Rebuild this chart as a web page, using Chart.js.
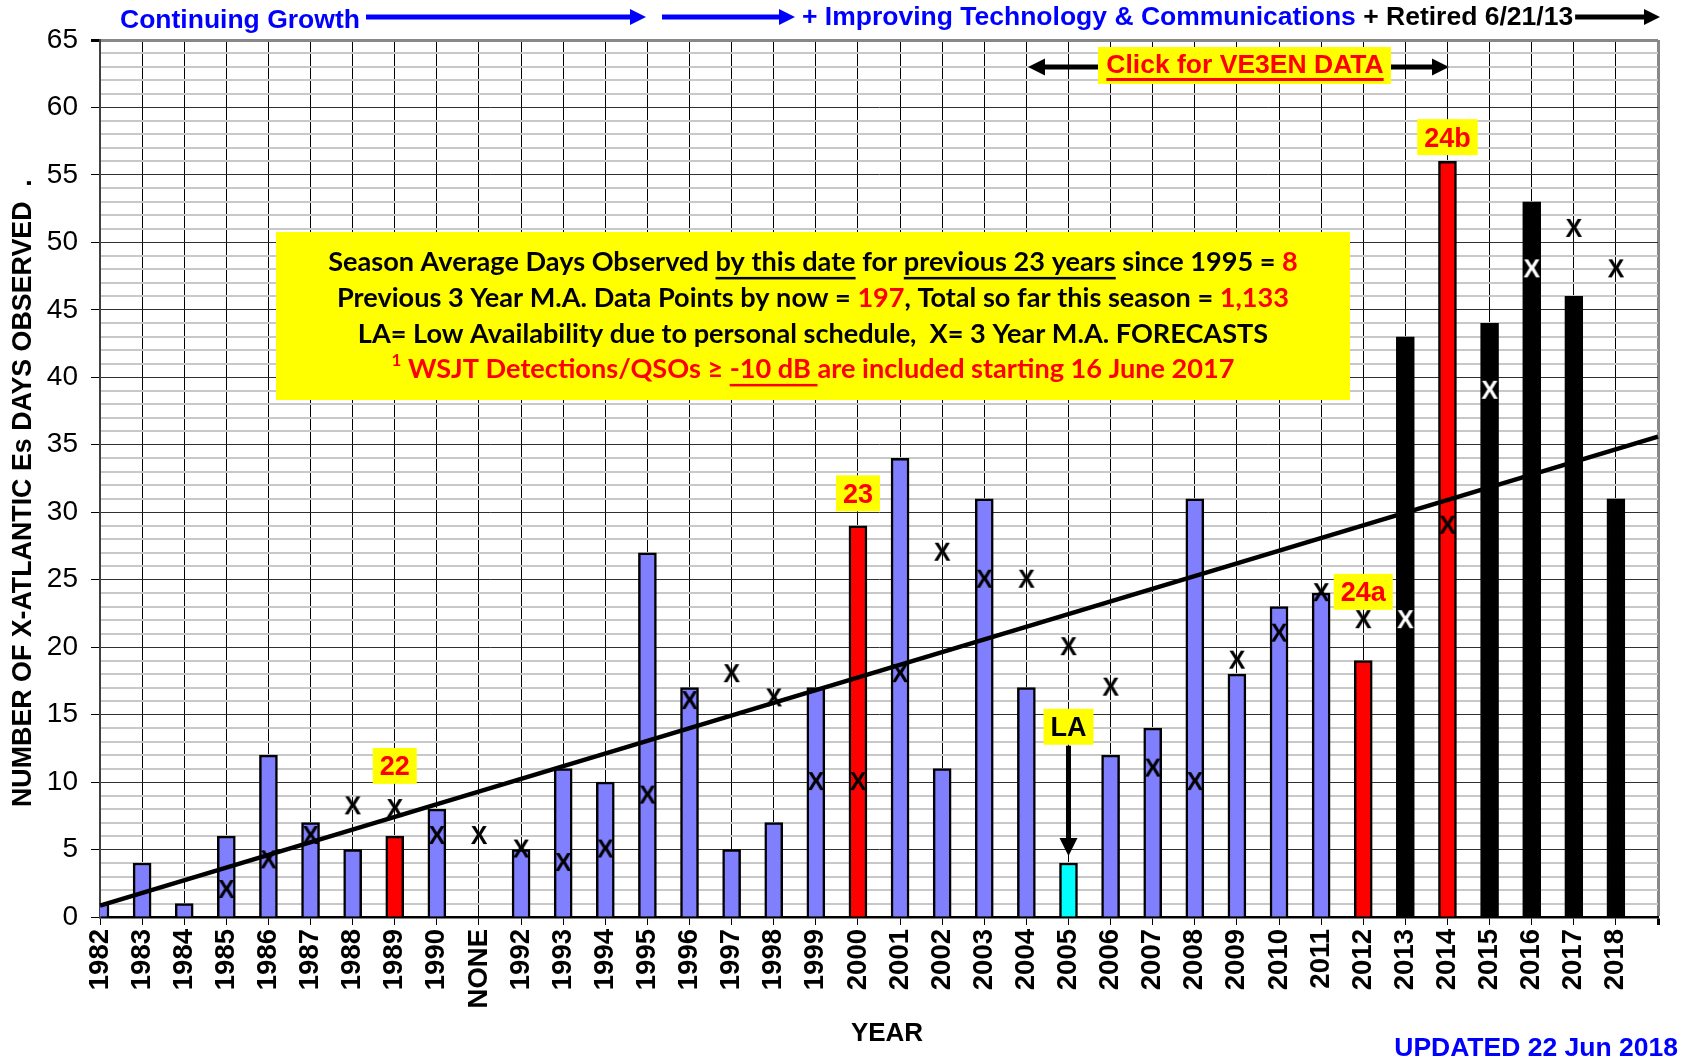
<!DOCTYPE html>
<html><head><meta charset="utf-8">
<script src="https://cdn.jsdelivr.net/npm/chart.js@4"></script>
<style>html,body{margin:0;padding:0;background:#fff}#wrap{width:1688px;height:1062px}</style>
</head><body><div id="wrap"><canvas id="c" width="1688" height="1062"></canvas></div>
<script>
// ---------- DATA ----------
const categories = ['1982','1983','1984','1985','1986','1987','1988','1989','1990','NONE','1992','1993','1994','1995','1996','1997','1998','1999','2000','2001','2002','2003','2004','2005','2006','2007','2008','2009','2010','2011','2012','2013','2014','2015','2016','2017','2018',''];
const observedDays = [1,4,1,6,12,7,5,6,8,null,5,11,10,27,17,5,7,17,29,34,11,31,17,4,12,14,31,18,23,24,19,43,56,44,53,46,31,null];
const forecastMA = [null,null,null,2,4.2,6,8.2,8,6,6,5,4,5,9,16,18,16.2,10,10,18,27,25,25,20,17,11,10,19,21,24,22,22,29,39,48,51,48,null];
const trendStart = 0.85;
const trendEnd = 35.6;
const specialYears = ['1989','2000','2012','2014'];
const lowAvailabilityYears = ['2005'];
const retiredYears = ['2013','2015','2016','2017','2018'];
const noteLabels = ['22','23','24a','24b','LA'];
const noteYears = ['1989','2000','2012','2014','2005'];
const noteLevels = [11.2, 31.4, 24.1, 57.8, 14.1];
const yMin = 0, yMax = 65, yMajorStep = 5;

// ---------- STYLE ----------
const SANS = '"Liberation Sans", Arial, sans-serif';
function barColor(cat){
  if (specialYears.includes(cat)) return '#FF0000';
  if (lowAvailabilityYears.includes(cat)) return '#00FFFF';
  if (retiredYears.includes(cat)) return '#000000';
  return '#8080FF';
}
function makeX(color){
  const c = document.createElement('canvas');
  c.width = 26; c.height = 26;
  const g = c.getContext('2d');
  g.font = 'bold 25px ' + SANS;
  g.fillStyle = color; g.textAlign = 'center'; g.textBaseline = 'middle';
  g.fillText('X', 13, 14);
  return c;
}
const xBlack = makeX('#000'), xWhite = makeX('#fff');

const trendData = categories.map((c,i) => i === 0 ? trendStart : (i === categories.length-1 ? trendEnd : null));

function arrowH(ctx, x1, x2, y, color, thick, headLen, headW){
  const dir = Math.sign(x2 - x1);
  ctx.fillStyle = color;
  const xe = x2 - dir*headLen;
  ctx.fillRect(Math.min(x1, xe), y - thick/2, Math.abs(xe - x1), thick);
  ctx.beginPath(); ctx.moveTo(x2, y); ctx.lineTo(xe, y - headW/2); ctx.lineTo(xe, y + headW/2); ctx.closePath(); ctx.fill();
}

function drawRich(ctx, segs, cx, cy, size, family){
  const f = 'bold ' + size + 'px ' + family;
  const fs = 'bold ' + Math.round(size*0.62) + 'px ' + family;
  const ws = segs.map(s => { ctx.font = s.sup ? fs : f; return ctx.measureText(s.t).width; });
  const total = ws.reduce((a,b)=>a+b,0);
  let x = cx - total/2;
  ctx.textAlign = 'left'; ctx.textBaseline = 'middle';
  segs.forEach((s,i) => {
    ctx.font = s.sup ? fs : f;
    ctx.fillStyle = s.c;
    ctx.fillText(s.t, x, s.sup ? cy - size*0.3 : cy);
    if (s.u) ctx.fillRect(x, cy + size*0.55, ws[i], 2.5);
    x += ws[i];
  });
}

const annot = {
  id: 'annot',
  afterDatasetsDraw(chart){
    const ctx = chart.ctx, xs = chart.scales.x, ys = chart.scales.y;
    ctx.save();
    // note boxes
    noteLabels.forEach((t,i) => {
      const idx = categories.indexOf(noteYears[i]);
      const cx = xs.getPixelForValue(idx), cy = ys.getPixelForValue(noteLevels[i]);
      ctx.font = 'bold 27px ' + SANS;
      const w = ctx.measureText(t).width + 14, h = 36;
      ctx.fillStyle = '#FFFF00';
      ctx.fillRect(cx - w/2, cy - h/2, w, h);
      ctx.fillStyle = t === 'LA' ? '#000' : '#FF0000';
      ctx.textAlign = 'center'; ctx.textBaseline = 'middle';
      ctx.fillText(t, cx, cy + 2);
      if (t === 'LA') {
        const top = cy + h/2 + 1;
        const tip = ys.getPixelForValue(observedDays[idx]) - 7;
        ctx.fillStyle = '#000';
        ctx.fillRect(cx - 2.5, top, 5, tip - 17 - top);
        ctx.beginPath(); ctx.moveTo(cx, tip); ctx.lineTo(cx - 9, tip - 18); ctx.lineTo(cx + 9, tip - 18); ctx.closePath(); ctx.fill();
      }
    });
    // info box
    ctx.fillStyle = '#FFFF00';
    ctx.fillRect(276, 232, 1074, 168);
    const fam = 'Lato, "Open Sans", sans-serif';
    ctx.font = 'bold 100px ' + fam;
    const l1 = 'Season Average Days Observed by this date for previous 23 years since 1995 = 8';
    const size = 100 * 970 / ctx.measureText(l1).width;
    const K = '#000', R = '#FF0000';
    const cx = 813;
    drawRich(ctx, [{t:'Season Average Days Observed ',c:K},{t:'by this date',c:K,u:1},{t:' for ',c:K},{t:'previous 23 years',c:K,u:1},{t:' since 1995 = ',c:K},{t:'8',c:R}], cx, 262, size, fam);
    drawRich(ctx, [{t:'Previous 3 Year M.A. Data Points by now = ',c:K},{t:'197',c:R},{t:', Total so far this season = ',c:K},{t:'1,133',c:R}], cx, 298, size, fam);
    drawRich(ctx, [{t:'LA= Low Availability due to personal schedule,  X= 3 Year M.A. FORECASTS',c:K}], cx, 334, size, fam);
    drawRich(ctx, [{t:'1',c:R,sup:1},{t:' WSJT Detections/QSOs \u2265 ',c:R},{t:'-10 dB ',c:R,u:1},{t:'are included starting 16 June 2017',c:R}], cx, 369, size, fam);
    // click box
    ctx.fillStyle = '#FFFF00';
    ctx.fillRect(1098, 47, 293, 37);
    ctx.font = 'bold 26.5px ' + SANS;
    ctx.fillStyle = '#FF0000'; ctx.textAlign = 'center'; ctx.textBaseline = 'middle';
    const ct = 'Click for VE3EN DATA';
    ctx.fillText(ct, 1245, 66);
    const cw = ctx.measureText(ct).width;
    ctx.fillRect(1245 - cw/2, 78, cw, 3);
    arrowH(ctx, 1098, 1028, 67, '#000', 5, 17, 17);
    arrowH(ctx, 1391, 1449, 67, '#000', 5, 17, 17);
    ctx.restore();
  },
  afterDraw(chart){
    const ctx = chart.ctx;
    ctx.save();
    ctx.textBaseline = 'middle';
    ctx.font = 'bold 26.5px ' + SANS;
    ctx.textAlign = 'left';
    ctx.fillStyle = '#0000FF';
    ctx.fillText('Continuing Growth', 120, 21);
    arrowH(ctx, 366, 646, 17, '#0000FF', 5, 16, 16);
    arrowH(ctx, 662, 795, 17, '#0000FF', 5, 16, 16);
    const t1 = '+ Improving Technology & Communications';
    ctx.fillText(t1, 802, 18);
    let x = 802 + ctx.measureText(t1).width;
    ctx.fillStyle = '#000';
    const t2 = ' + Retired 6/21/13';
    ctx.fillText(t2, x, 18);
    x += ctx.measureText(t2).width;
    arrowH(ctx, x + 2, 1660, 17, '#000', 5, 16, 16);
    // axis titles
    ctx.font = 'bold 26px ' + SANS;
    ctx.fillStyle = '#000';
    ctx.textAlign = 'center';
    ctx.fillText('YEAR', 887, 1034);
    ctx.font = 'bold 26.5px ' + SANS;
    ctx.fillStyle = '#0000FF';
    ctx.textAlign = 'right';
    ctx.fillText('UPDATED 22 Jun 2018', 1678, 1049);
    ctx.translate(24, 807);
    ctx.rotate(-Math.PI/2);
    ctx.font = 'bold 26.8px ' + SANS;
    ctx.fillStyle = '#000';
    ctx.textAlign = 'left';
    ctx.fillText('NUMBER OF X-ATLANTIC Es DAYS OBSERVED  .', 0, 0);
    ctx.restore();
  }
};

new Chart(document.getElementById('c'), {
  type: 'bar',
  data: {
    labels: categories,
    datasets: [
      { type:'line', data: forecastMA, showLine:false, order:1,
        pointStyle: c => { const i = c.dataIndex; const cat = categories[i];
          return (retiredYears.includes(cat) && observedDays[i] != null && forecastMA[i] < observedDays[i]) ? xWhite : xBlack; },
        pointRadius: 10 },
      { type:'line', data: trendData, spanGaps:true, borderColor:'#000', borderWidth:4.5, pointRadius:0, order:2 },
      { type:'bar', data: observedDays, order:3,
        backgroundColor: c => barColor(categories[c.dataIndex]),
        borderColor:'#000', borderWidth:2.5, barThickness:18 }
    ]
  },
  options: {
    responsive:false, devicePixelRatio:1, animation:false,
    layout:{ padding:{ top:40, right:30, left:0, bottom:0 } },
    plugins:{ legend:{display:false}, tooltip:{enabled:false} },
    scales:{
      x:{
        type:'category', offset:false,
        afterFit: s => { s.height = 145; s.paddingRight = 0; s.paddingLeft = 0; },
        grid:{ offset:false, color: c => c.index === categories.length-1 ? '#888' : '#000',
               lineWidth: c => c.index === categories.length-1 ? 3 : 1, tickColor:'#000', tickLength:8 },
        border:{ color:'#000', width:2.5 },
        ticks:{ autoSkip:false, minRotation:90, maxRotation:90, padding:4, color:'#000',
                font:{ family:SANS, size:27.5, weight:'bold' } }
      },
      y:{
        min:yMin, max:yMax,
        afterFit: s => { s.width = 100; },
        grid:{
          color: c => { const v = c.tick.value; if (v === yMax) return '#888'; return v % yMajorStep === 0 ? '#303030' : '#c8c8c8'; },
          lineWidth: c => { const v = c.tick.value; if (v === yMax) return 3; return v % yMajorStep === 0 ? 1 : 2; },
          tickColor: c => c.tick.value % yMajorStep === 0 ? '#000' : 'rgba(0,0,0,0)',
          tickLength:9
        },
        border:{ color:'#404040', width:2 },
        ticks:{ stepSize:1, autoSkip:false, padding:13, color:'#000',
                callback: v => v % yMajorStep === 0 ? String(v) : '',
                font:{ family:SANS, size:28 } }
      }
    }
  },
  plugins:[annot]
});
</script></body></html>
